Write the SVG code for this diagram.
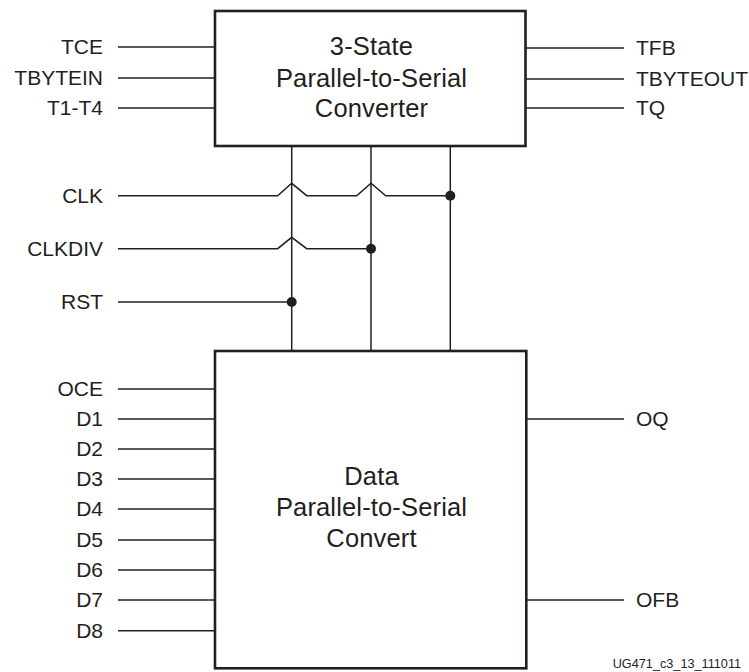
<svg xmlns="http://www.w3.org/2000/svg" width="749" height="672" viewBox="0 0 749 672">
<style>
  .box { fill: #ffffff; stroke: #231f20; stroke-width: 2.6; }
  .wire { fill: none; stroke: #231f20; stroke-width: 1.5; }
  .dot { fill: #231f20; }
  .lbl { font-family: "Liberation Sans", Arial, sans-serif; font-size: 21px; fill: #231f20; }
  .lblL { text-anchor: end; }
  .title { font-family: "Liberation Sans", Arial, sans-serif; font-size: 25.5px; letter-spacing: 0.15px; fill: #231f20; text-anchor: middle; }
  .foot { font-family: "Liberation Sans", Arial, sans-serif; font-size: 12.7px; fill: #231f20; }
</style>
<rect width="749" height="672" fill="#ffffff"/>

<g id="connectors">
  <!-- top box inputs -->
  <line class="wire" x1="118" y1="47" x2="215" y2="47"/>
  <line class="wire" x1="118" y1="78" x2="215" y2="78"/>
  <line class="wire" x1="118" y1="108" x2="215" y2="108"/>
  <!-- top box outputs -->
  <line class="wire" x1="525" y1="48" x2="624" y2="48"/>
  <line class="wire" x1="525" y1="79" x2="624" y2="79"/>
  <line class="wire" x1="525" y1="108" x2="624" y2="108"/>
  <!-- verticals between boxes -->
  <line class="wire" x1="291.7" y1="146" x2="291.7" y2="351"/>
  <line class="wire" x1="371" y1="146" x2="371" y2="351"/>
  <line class="wire" x1="450.3" y1="146" x2="450.3" y2="351"/>
  <!-- CLK with hops -->
  <polyline class="wire" points="118,195.7 277.7,195.7 291.7,183.3 306.7,195.7 356.7,195.7 371,183.3 385.7,195.7 450.3,195.7"/>
  <!-- CLKDIV with hop -->
  <polyline class="wire" points="118,248.7 277.7,248.7 291.7,237.3 306.7,248.7 371,248.7"/>
  <!-- RST -->
  <line class="wire" x1="118" y1="302" x2="291.7" y2="302"/>
  <circle class="dot" cx="450.3" cy="195.7" r="5"/>
  <circle class="dot" cx="371" cy="248.7" r="5"/>
  <circle class="dot" cx="291.7" cy="302" r="5"/>
  <!-- bottom box inputs -->
  <line class="wire" x1="118" y1="389" x2="215" y2="389"/>
  <line class="wire" x1="118" y1="419" x2="215" y2="419"/>
  <line class="wire" x1="118" y1="449" x2="215" y2="449"/>
  <line class="wire" x1="118" y1="479" x2="215" y2="479"/>
  <line class="wire" x1="118" y1="509" x2="215" y2="509"/>
  <line class="wire" x1="118" y1="540" x2="215" y2="540"/>
  <line class="wire" x1="118" y1="570" x2="215" y2="570"/>
  <line class="wire" x1="118" y1="600" x2="215" y2="600"/>
  <line class="wire" x1="118" y1="630.7" x2="215" y2="630.7"/>
  <!-- bottom box outputs -->
  <line class="wire" x1="526" y1="419" x2="624" y2="419"/>
  <line class="wire" x1="526" y1="600" x2="624" y2="600"/>
</g>

<g id="tristate-converter">
  <rect class="box" x="215" y="11" width="310.5" height="135"/>
  <text class="title" x="371.5" y="55">3-State</text>
  <text class="title" x="371.5" y="86.7">Parallel-to-Serial</text>
  <text class="title" x="371.5" y="116.7">Converter</text>
</g>

<g id="data-converter">
  <rect class="box" x="215" y="351" width="311.3" height="317.3"/>
  <text class="title" x="371.5" y="485">Data</text>
  <text class="title" x="371.5" y="516">Parallel-to-Serial</text>
  <text class="title" x="371.5" y="546.7">Convert</text>
</g>

<g id="labels-left">
  <text class="lbl lblL" x="103" y="54">TCE</text>
  <text class="lbl lblL" x="103" y="85">TBYTEIN</text>
  <text class="lbl lblL" x="103" y="115">T1-T4</text>
  <text class="lbl lblL" x="103" y="202.7">CLK</text>
  <text class="lbl lblL" x="103" y="255.7">CLKDIV</text>
  <text class="lbl lblL" x="103" y="309">RST</text>
  <text class="lbl lblL" x="103" y="396">OCE</text>
  <text class="lbl lblL" x="103" y="426">D1</text>
  <text class="lbl lblL" x="103" y="456">D2</text>
  <text class="lbl lblL" x="103" y="486">D3</text>
  <text class="lbl lblL" x="103" y="516">D4</text>
  <text class="lbl lblL" x="103" y="547">D5</text>
  <text class="lbl lblL" x="103" y="577">D6</text>
  <text class="lbl lblL" x="103" y="607">D7</text>
  <text class="lbl lblL" x="103" y="637.7">D8</text>
</g>

<g id="labels-right">
  <text class="lbl" x="636" y="55">TFB</text>
  <text class="lbl" x="636" y="86">TBYTEOUT</text>
  <text class="lbl" x="636" y="115">TQ</text>
  <text class="lbl" x="636" y="426">OQ</text>
  <text class="lbl" x="636" y="607">OFB</text>
</g>

<text class="foot" x="612.7" y="667.7">UG471_c3_13_111011</text>
</svg>
